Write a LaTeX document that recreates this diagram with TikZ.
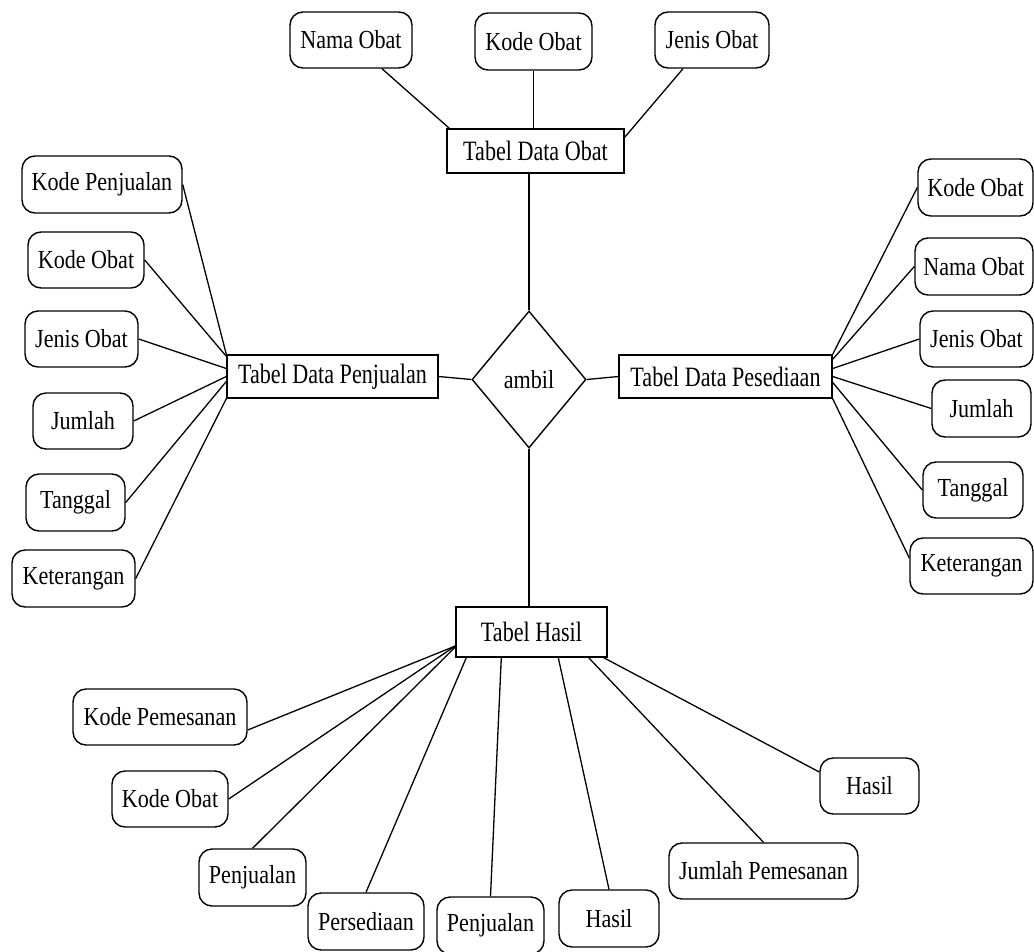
\documentclass[tikz,border=0pt]{standalone}
\usepackage{fontspec}
\setmainfont{Liberation Serif}[FakeStretch=0.85]
\newfontfamily\entfont{Liberation Serif}[FakeStretch=0.79]
\usetikzlibrary{shapes.geometric}

\begin{document}
\begin{tikzpicture}[x=1pt,y=-1pt,
  every node/.style={font=\fontsize{26}{30}\selectfont, inner sep=0pt},
  attr/.style={draw, line width=1.4pt, rounded corners=13pt},
  entity/.style={draw, line width=1.4pt, font=\entfont\fontsize{28}{32}\selectfont},
  rel/.style={draw, line width=1.4pt, shape=diamond},
  link/.style={line width=1.3pt}]
\useasboundingbox (0,0) rectangle (1034,951);

% entities and relationship
\node[entity, minimum width=177pt, minimum height=44pt] (tdo) at (535.5,151) {Tabel Data Obat};
\node[entity, minimum width=211pt, minimum height=43pt] (tdp) at (332.5,376.5) {Tabel Data Penjualan};
\node[entity, minimum width=213pt, minimum height=43pt] (tds) at (725.5,376.5) {Tabel Data Pesediaan};
\node[entity, minimum width=151pt, minimum height=50pt] (th) at (531.5,632) {Tabel Hasil};
\node[rel, minimum width=114pt, minimum height=137pt] (dia) at (529,379.5) {\raisebox{-4pt}{ambil}};

% attributes of Tabel Data Obat
\node[attr, minimum width=122pt, minimum height=56pt] (no) at (351,40) {Nama Obat};
\node[attr, minimum width=117pt, minimum height=57pt] (ko) at (533.5,41.5) {Kode Obat};
\node[attr, minimum width=114pt, minimum height=56pt] (jo) at (712,40) {Jenis Obat};

% attributes of Tabel Data Penjualan
\node[attr, minimum width=160pt, minimum height=57pt] (lkp) at (102,184.5) {Kode Penjualan};
\node[attr, minimum width=116pt, minimum height=56pt] (lko) at (86,260) {Kode Obat};
\node[attr, minimum width=113pt, minimum height=56pt] (ljo) at (81.5,339) {Jenis Obat};
\node[attr, minimum width=100pt, minimum height=56pt] (lju) at (83,421) {Jumlah};
\node[attr, minimum width=99pt, minimum height=57pt] (lta) at (75.5,502.5) {Tanggal};
\node[attr, minimum width=123pt, minimum height=57pt] (lke) at (73.5,578.5) {Keterangan};

% attributes of Tabel Data Pesediaan
\node[attr, minimum width=115pt, minimum height=57pt] (rko) at (975.5,187.5) {Kode Obat};
\node[attr, minimum width=118pt, minimum height=57pt] (rno) at (974,266.5) {Nama Obat};
\node[attr, minimum width=113pt, minimum height=56pt] (rjo) at (976.5,339) {Jenis Obat};
\node[attr, minimum width=99pt, minimum height=57pt] (rju) at (981.5,408.5) {Jumlah};
\node[attr, minimum width=100pt, minimum height=56pt] (rta) at (973,490) {Tanggal};
\node[attr, minimum width=123pt, minimum height=56pt] (rke) at (971.5,566) {Keterangan};

% attributes of Tabel Hasil
\node[attr, minimum width=174pt, minimum height=56pt] (bkp) at (160,717) {Kode Pemesanan};
\node[attr, minimum width=116pt, minimum height=56pt] (bko) at (170,799) {Kode Obat};
\node[attr, minimum width=107pt, minimum height=57pt] (bpj1) at (252.5,877.5) {Penjualan};
\node[attr, minimum width=116pt, minimum height=57pt] (bps) at (366,921.5) {Persediaan};
\node[attr, minimum width=107pt, minimum height=57pt] (bpj2) at (490.5,925.5) {Penjualan};
\node[attr, minimum width=100pt, minimum height=57pt] (bh1) at (609,918.5) {Hasil};
\node[attr, minimum width=189pt, minimum height=56pt] (bjp) at (763.5,871) {Jumlah Pemesanan};
\node[attr, minimum width=99pt, minimum height=56pt] (bh2) at (869.5,786) {Hasil};

% connectors: Tabel Data Obat
\draw[link] ([xshift=31pt]no.south) -- ([xshift=3pt]tdo.north west);
\draw[link] (ko.south) -- (ko.south |- tdo.north);
\draw[link] ([xshift=-29pt]jo.south) -- ([yshift=-9pt]tdo.north east);
\draw[link] (dia.north) -- (dia.north |- tdo.south);

% connectors: relationship
\draw[link] (tdp.east) -- (dia.west);
\draw[link] (dia.east) -- (tds.west);
\draw[link] (dia.south) -- (dia.south |- th.north);

% connectors: Tabel Data Penjualan
\draw[link] (lkp.east) -- (tdp.north west);
\draw[link] (lko.east) -- ([yshift=-2pt]tdp.north west);
\draw[link] (ljo.east) -- ([yshift=8pt]tdp.west);
\draw[link] (lju.east) -- (tdp.west);
\draw[link] (lta.east) -- ([yshift=-5pt]tdp.west);
\draw[link] (lke.east) -- (tdp.south west);

% connectors: Tabel Data Pesediaan
\draw[link] (rko.west) -- (tds.north east);
\draw[link] (rno.west) -- ([yshift=-5pt]tds.north east);
\draw[link] (rjo.west) -- ([yshift=8pt]tds.east);
\draw[link] (rju.west) -- (tds.east);
\draw[link] (rta.west) -- ([yshift=-6pt]tds.east);
\draw[link] ([yshift=8pt]rke.west) -- (tds.south east);

% connectors: Tabel Hasil
\draw[link] ([yshift=-13pt]bkp.east) -- ([yshift=-14pt]th.west);
\draw[link] (bko.east) -- ([yshift=-14pt]th.west);
\draw[link] (bpj1.north) -- ([yshift=-15pt]th.west);
\draw[link] (bps.north) -- ([xshift=11pt]th.south west);
\draw[link] (bpj2.north) -- ([xshift=46pt]th.south west);
\draw[link] (bh1.north) -- ([xshift=103pt]th.south west);
\draw[link] (bjp.north) -- ([xshift=-19pt]th.south east);
\draw[link] ([yshift=14pt]bh2.west) -- ([xshift=-4pt]th.south east);
\end{tikzpicture}
\end{document}
